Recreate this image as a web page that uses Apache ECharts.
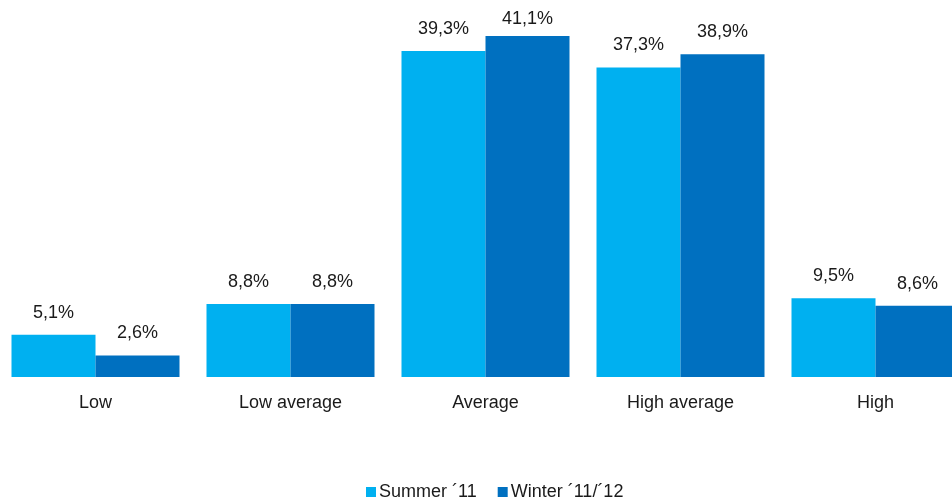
<!DOCTYPE html>
<html>
<head>
<meta charset="utf-8">
<script src="https://cdn.jsdelivr.net/npm/echarts@6/dist/echarts.min.js"></script>
<style>
  html, body { margin: 0; padding: 0; background: #fff; overflow: hidden; }
  #chart { width: 975px; height: 499px; margin-left: -2px; }
</style>
</head>
<body>
<div id="chart"></div>
<script>
const categories = ['Low', 'Low average', 'Average', 'High average', 'High'];
const summerValues = [5.1, 8.8, 39.3, 37.3, 9.5];
const winterValues = [2.6, 8.8, 41.1, 38.9, 8.6];
const seriesNames = ['Summer \u00B411', 'Winter \u00B411/\u00B412'];

const fmt = p => p.value.toFixed(1).replace('.', ',') + '%';
const font = 'Liberation Sans, Arial, sans-serif';
const ink = '#1a1a1a';

const barLabel = {
  show: true, position: 'top', distance: 13,
  color: ink, fontSize: 18, fontFamily: font, formatter: fmt
};

// The tallest bar's label sits a little closer so it stays inside the top edge.
const maxWinter = Math.max(...winterValues);
const winterData = winterValues.map(v =>
  v === maxWinter ? { value: v, label: { distance: 8 } } : v
);

const chart = echarts.init(document.getElementById('chart'));
chart.setOption({
  animation: false,
  textStyle: { fontFamily: font },
  grid: { left: 0, right: 0, top: 3.6, bottom: 122, containLabel: false },
  xAxis: {
    type: 'category',
    data: categories,
    axisLine: { show: false },
    axisTick: { show: false },
    axisLabel: { color: ink, fontSize: 18, margin: 17, fontFamily: font }
  },
  yAxis: {
    type: 'value', min: 0, max: 45,
    show: false,
    splitLine: { show: false }
  },
  legend: {
    top: 483,
    left: 368,
    padding: 0,
    itemWidth: 10, itemHeight: 10, itemGap: 21,
    icon: 'rect',
    textStyle: { color: ink, fontSize: 18, fontFamily: font, padding: [0, 0, 0, -2] },
    data: seriesNames
  },
  series: [
    {
      name: seriesNames[0], type: 'bar', data: summerValues,
      barWidth: 84, barGap: '0%',
      itemStyle: { color: '#00B0F0' },
      label: barLabel
    },
    {
      name: seriesNames[1], type: 'bar', data: winterData,
      barWidth: 84, barGap: '0%',
      itemStyle: { color: '#0070C0' },
      label: barLabel
    }
  ]
});
</script>
</body>
</html>
